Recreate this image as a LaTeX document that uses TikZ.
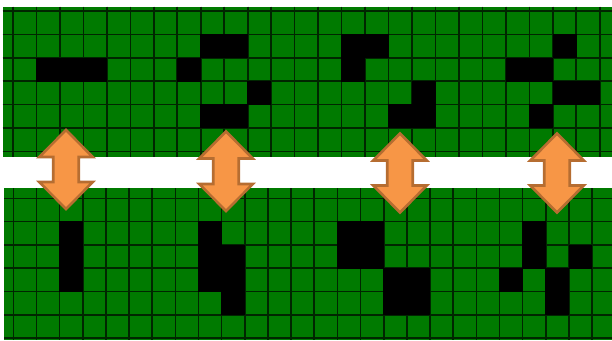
\documentclass[tikz,border=0pt]{standalone}
\definecolor{gridgreen}{RGB}{0,122,0}
\definecolor{gridline}{RGB}{0,38,0}
\definecolor{arrowfill}{HTML}{F79646}
\definecolor{arrowedge}{HTML}{B66D31}
\newcommand{\vdarrow}[3]{%
  \filldraw[dblarrow] (#1,#2) -- ({#1+26.75},{#2+27}) -- ({#1+12.75},{#2+27})
    -- ({#1+12.75},{#3-27}) -- ({#1+26.75},{#3-27}) -- (#1,#3)
    -- ({#1-26.75},{#3-27}) -- ({#1-12.75},{#3-27}) -- ({#1-12.75},{#2+27})
    -- ({#1-26.75},{#2+27}) -- cycle;}
\begin{document}
\begin{tikzpicture}[x=1pt,y=-1pt,
  gridln/.style={draw=gridline, line width=1.6pt},
  blackcell/.style={fill=black},
  dblarrow/.style={fill=arrowfill, draw=arrowedge, line width=2.6pt, line join=miter}]
\useasboundingbox (0,0) rectangle (612,340);
\fill[white] (0,0) rectangle (612,340);
% ---------- top grid ----------
\fill[gridgreen] (2.7,6.7) rectangle (612,157);
\begin{scope}
  \clip (2.7,6.7) rectangle (612,157);
  \foreach \j in {0,...,25}
    \draw[gridln] ({13+23.47*\j},6.7) -- ({13+23.47*\j},157);
  \foreach \r in {0,...,6}
    \draw[gridln] (2.7,{11+23.4*\r}) -- (612,{11+23.4*\r});
\end{scope}
\foreach \c/\r in {8/1,9/1,14/1,15/1,23/1,
                   1/2,2/2,3/2,7/2,14/2,21/2,22/2,
                   10/3,17/3,23/3,24/3,
                   8/4,9/4,16/4,17/4,22/4}
  \fill[blackcell] ({13+23.47*\c-0.3},{11+23.4*\r-0.3}) rectangle ++(24.07,24.0);
% ---------- bottom grid ----------
\fill[gridgreen] (4,188) rectangle (612,339.5);
\begin{scope}
  \clip (4,188) rectangle (612,339.5);
  \foreach \j in {0,...,25}
    \draw[gridln] ({13.3+23.15*\j},188) -- ({13.3+23.15*\j},339.5);
  \foreach \r in {0,...,6}
    \draw[gridln] (4,{198.3+23.3*\r}) -- (612,{198.3+23.3*\r});
\end{scope}
\foreach \c/\r in {2/1,2/2,2/3,
                   8/1,8/2,8/3,9/2,9/3,9/4,
                   14/1,15/1,14/2,15/2,16/3,17/3,16/4,17/4,
                   21/3,22/1,22/2,23/3,23/4,24/2}
  \fill[blackcell] ({13.3+23.15*\c-0.3},{198.3+23.3*\r-0.3}) rectangle ++(23.75,23.9);
% ---------- arrows ----------
\vdarrow{66}{130}{209}
\vdarrow{226}{131.5}{211}
\vdarrow{400}{133.5}{212.5}
\vdarrow{557}{133.5}{212.5}
\end{tikzpicture}
\end{document}
